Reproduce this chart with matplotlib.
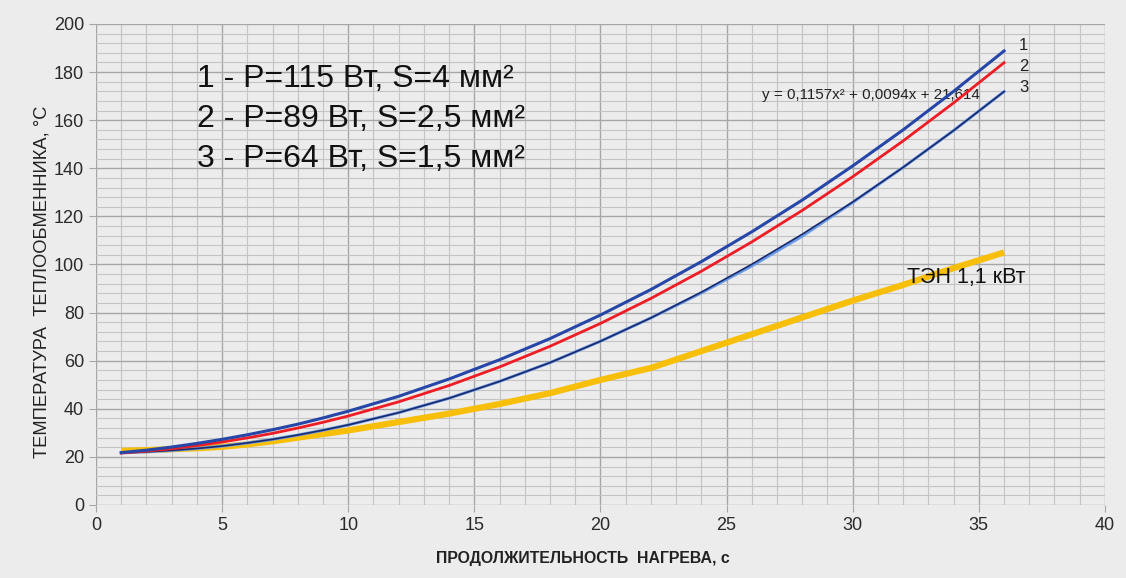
import matplotlib
matplotlib.use('Agg')
import matplotlib.pyplot as plt
from matplotlib import font_manager
from matplotlib.ticker import MultipleLocator

plt.rcParams['font.family'] = ['Liberation Sans', 'DejaVu Sans']

# время нагрева, с
x = [1, 2, 3, 4, 5, 6, 7, 8, 9, 10, 12, 14, 16, 18, 20, 22, 24, 26, 28, 30, 32, 34, 36]
# кривые 1-3
t1 = [21.8, 22.8, 24.1, 25.6, 27.3, 29.2, 31.3, 33.6, 36.2, 39.0, 45.2, 52.4, 60.4, 69.2,
      79.0, 89.6, 101.2, 113.6, 126.8, 141.0, 156.0, 172.0, 188.8]
t2 = [21.6, 22.4, 23.4, 24.7, 26.2, 27.9, 29.8, 32.0, 34.4, 37.0, 42.9, 49.7, 57.4, 66.0,
      75.5, 85.9, 97.2, 109.4, 122.5, 136.5, 151.4, 167.2, 183.9]
t3 = [21.7, 22.1, 22.7, 23.5, 24.5, 25.8, 27.3, 29.1, 31.1, 33.3, 38.4, 44.4, 51.4, 59.2,
      68.1, 77.8, 88.5, 100.1, 112.6, 126.0, 140.4, 155.7, 171.9]
t3_data = [21.7, 22.1, 22.7, 23.5, 24.5, 25.8, 27.3, 29.1, 31.1, 33.3, 38.4, 44.4, 51.4, 59.2,
           68.1, 77.8, 88.2, 99.4, 111.8, 125.8, 140.4, 155.7, 171.9]
# ТЭН 1,1 кВт
xt = [1, 2, 3, 4, 5, 6, 7, 8, 9, 10, 12, 14, 15, 16, 18, 20, 22, 24, 26, 28, 30, 32, 34, 36]
tt = [22.5, 22.8, 23.2, 23.6, 24.2, 25.2, 26.5, 28.0, 29.5, 31.0, 34.5, 38.0, 40.0, 42.0,
      46.5, 52.0, 57.0, 64.0, 71.0, 78.0, 85.0, 91.5, 98.5, 105.0]

legend_lines = ['1 - P=115 Вт, S=4 мм²', '2 - P=89 Вт, S=2,5 мм²', '3 - P=64 Вт, S=1,5 мм²']
curve_labels = ['1', '2', '3']
bg = '#ececec'

# узкий шрифт для подписей осей, если есть
names = {f.name for f in font_manager.fontManager.ttflist}
if 'Liberation Sans Narrow' in names:
    narrow, k = 'Liberation Sans Narrow', 1.12
else:
    narrow, k = 'Liberation Sans', 0.95

fig = plt.figure(figsize=(11.26, 5.78), dpi=100, facecolor=bg)
ax = fig.add_axes([0.0853, 0.1263, 0.8960, 0.8322], facecolor=bg)

ax.set_xlim(0, 40)
ax.set_ylim(0, 200)
ax.xaxis.set_major_locator(MultipleLocator(5))
ax.xaxis.set_minor_locator(MultipleLocator(1))
ax.yaxis.set_major_locator(MultipleLocator(20))
ax.yaxis.set_minor_locator(MultipleLocator(4))
ax.grid(which='major', color='#a6a6a6', lw=1.0)
ax.grid(which='minor', color='#c4c4c4', lw=0.8)
ax.set_axisbelow(True)
for s in ax.spines.values():
    s.set_visible(False)
ax.tick_params(which='minor', length=0)
ax.tick_params(which='major', length=5, color='#a6a6a6', labelsize=13, labelcolor='#2a2a2a')

ax.plot(xt, tt, color='#f7bf0a', lw=4.5, solid_capstyle='butt', zorder=2)
ax.plot(x, t3_data, color='#6a9ae8', lw=2.2, zorder=3)
ax.plot(x, t3, color='#1a2a6a', lw=1.2, zorder=4)
ax.plot(x, t2, color='#ee1c24', lw=2.0, zorder=4)
ax.plot(x, t1, color='#2646a8', lw=2.2, zorder=4)

for i, s in enumerate(legend_lines):
    ax.text(4.0, 177 - i * 16.6, s, fontsize=23, va='center', ha='left', color='#111111')

ax.text(26.4, 170.5, 'y = 0,1157x² + 0,0094x + 21,614', fontsize=10.9, va='center', color='#222222')
for i, lbl in enumerate(curve_labels):
    ax.text(36.6, 191 - i * 8.7, lbl, fontsize=12, va='center', color='#222222')
ax.text(32.15, 94.4, 'ТЭН 1,1 кВт', fontsize=15.5, va='center', color='#111111')

ax.set_xlabel('ПРОДОЛЖИТЕЛЬНОСТЬ  НАГРЕВА, с', fontsize=12 * k, fontweight='bold',
              family=narrow, color='#222222', va='top')
ax.xaxis.set_label_coords(0.4826, -0.0956)
ax.set_ylabel('ТЕМПЕРАТУРА  ТЕПЛООБМЕННИКА, °С', fontsize=13.9 * k, family=narrow, color='#222222')
ax.yaxis.set_label_coords(-0.0456, 0.4636)

fig.savefig('out.png', dpi=100, facecolor=bg)
